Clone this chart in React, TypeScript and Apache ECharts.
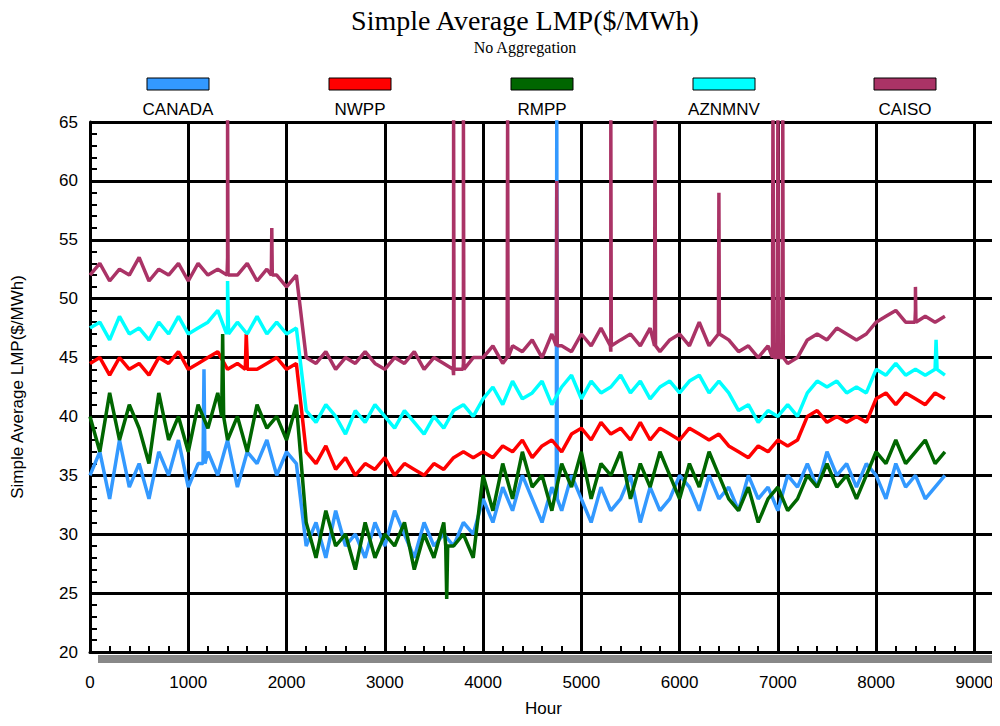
import { useEffect, useRef } from "react";
import * as echarts from "echarts";

const step = 100;
const names = ["CANADA", "NWPP", "RMPP", "AZNMNV", "CAISO"];
const colors = ["#3399ff", "#ff0000", "#006600", "#00ffff", "#aa3366"];

const canada = [
  35, 37, 33, 38, 34, 36, 33, 37, 35, 38, 34, 36, 37, 35, 38, 34, 37, 36, 38, 35, 37, 36,
  29, 31, 28, 32, 29, 30, 28, 31, 29, 32, 30, 28, 31, 29, 30, 29, 31, 30,
  33, 31, 34, 32, 35, 33, 31, 34, 32, 35, 33, 31, 34, 32, 33, 35, 31, 34, 32, 33, 35, 34, 32, 35, 33, 34, 32, 35, 33, 34, 32, 35, 34,
  36, 34, 37, 35, 36, 34, 36,
  35, 33, 36, 34, 35, 33, 34, 35,
];
const nwpp = [
  44.5, 45, 43.5, 45, 44, 44.5, 43.5, 45, 44.5, 45.5, 44, 44.5, 45, 45.5, 44, 44.5, 45, 44, 44.5, 45, 44, 44.5,
  37, 36, 37.5, 35.5, 36.5, 35, 36, 35.5, 36.5, 35, 36, 35.5, 35, 36, 35.5, 36.5, 37, 36.5,
  37, 36.5, 37.5, 37, 38, 36.5, 37.5, 38, 37, 38.5, 39, 38, 39.5, 38.5, 39, 38, 39.5, 38, 39, 38.5, 38, 39, 38.5, 38, 38.5, 37.5, 37, 36.5, 37.5, 37, 38, 37.5, 38,
  40, 40.5, 39.5, 40, 39.5, 40, 39.5,
  41.5, 42, 41, 42, 41.5, 41, 42, 41.5,
];
const rmpp = [
  40, 37, 42, 38, 41, 39, 36, 42, 38, 40, 37, 41, 39, 42, 38, 40, 37, 41, 39, 40, 38, 41,
  31, 28, 32, 29, 30, 27, 31, 28, 30, 29, 31, 27, 30, 28, 31, 29, 30, 28,
  35, 32, 36, 33, 37, 34, 35, 32, 36, 34, 37, 33, 36, 35, 37, 33, 36, 34, 37, 35, 33, 36, 34, 37, 35, 33, 32, 34, 31, 33, 34, 32, 33,
  35, 34, 36, 34, 35, 33, 35,
  37, 36, 38, 36, 37, 38, 36, 37,
];
const aznmnv = [
  47.5, 48, 46.5, 48.5, 47, 47.5, 46.5, 48, 47, 48.5, 47, 47.5, 48, 49, 47.5, 48, 47, 48.5, 47, 48, 47, 47.5,
  40.5, 39.5, 41, 40, 38.5, 40.5, 39.5, 41, 40, 39, 40.5, 39.5, 38.5, 40, 39, 40.5, 41, 40,
  41.5, 42.5, 41, 43, 41.5, 42, 43, 41, 42.5, 43.5, 41.5, 43, 42, 42.5, 43.5, 42, 43, 41.5, 42.5, 43, 42, 43, 43.5, 42, 43, 42, 40.5, 41, 39.5, 40.5, 40, 41, 40,
  42, 43, 42.5, 43, 42, 42.5, 42,
  44, 43.5, 44.5, 43.5, 44, 43.5, 44, 43.5,
];
const caiso = [
  52, 53, 51.5, 52.5, 52, 53.5, 51.5, 52.5, 52, 53, 51.5, 53, 52, 52.5, 53.5, 52, 53, 51.5, 52.5, 52, 51, 52,
  45, 44.5, 45.5, 44, 45, 44.5, 45.5, 44.5, 44, 45, 44.5, 45.5, 44, 45, 44.5, 43.5, 44.5, 45,
  45, 46, 44.5, 46, 45.5, 46.5, 45, 47, 46, 45.5, 47, 46, 47.5, 45.5, 46.5, 47, 46, 47.5, 45.5, 46.5, 47, 46, 48, 46, 47, 46.5, 45.5, 46, 45, 46, 45, 44.5, 45,
  46.5, 47, 46.5, 47.5, 47, 46.5, 47,
  48, 48.5, 49, 48, 49, 48.5, 48, 48.5,
];

const canadaSpikes = [[4745, 33], [4750, 66], [4755, 33], [1150, 36], [1160, 44], [1170, 36]];
const nwppSpikes = [[1580, 44], [1590, 47], [1600, 44]];
const rmppSpikes = [[1340, 40], [1350, 47], [1360, 40], [3620, 29], [3630, 24.5], [3640, 29]];
const aznmnvSpikes = [[1390, 47], [1400, 51.5], [1410, 47], [8600, 44], [8610, 46.5], [8620, 44]];
const caisoSpikes = [
  [1395, 52], [1400, 66], [1405, 52], [1845, 52], [1850, 56], [1855, 52],
  [3695, 44], [3700, 66], [3705, 44], [3795, 44], [3800, 66], [3805, 44],
  [4245, 45], [4250, 66], [4255, 45], [4745, 46], [4750, 60], [4755, 46],
  [5295, 46], [5300, 66], [5305, 46], [5745, 46], [5750, 66], [5755, 46],
  [6395, 47], [6400, 59], [6405, 47], [6945, 45], [6950, 66], [6960, 45],
  [6995, 45], [7000, 66], [7010, 45], [7045, 45], [7050, 66], [7055, 45],
  [8395, 48], [8400, 51], [8405, 48],
];

const allValues = [canada, nwpp, rmpp, aznmnv, caiso];
const allSpikes = [canadaSpikes, nwppSpikes, rmppSpikes, aznmnvSpikes, caisoSpikes];

function build(values: number[], spikes: number[][]) {
  const pts = values.map((v, i) => [i * step, v]);
  return pts.concat(spikes).sort((a, b) => a[0] - b[0]);
}

export default function App() {
  const ref = useRef<HTMLDivElement>(null);

  useEffect(() => {
    if (!ref.current) return;
    const chart = echarts.init(ref.current, null, { renderer: "svg" });
    const sans = "Liberation Sans";
    const legendX = [178, 360, 542, 724, 905];

    chart.setOption({
      animation: false,
      backgroundColor: "#ffffff",
      graphic: [
        { type: "rect", shape: { x: 98, y: 655, width: 902, height: 8 }, style: { fill: "#888" } },
        { type: "line", shape: { x1: 996, y1: 122, x2: 996, y2: 652 }, style: { stroke: "#000", lineWidth: 3 } },
        {
          type: "text",
          x: 525,
          y: 6,
          style: { text: "Simple Average LMP($/MWh)", fontFamily: "Liberation Serif", fontSize: 28, fill: "#000", align: "center" },
        },
        {
          type: "text",
          x: 525,
          y: 39,
          style: { text: "No Aggregation", fontFamily: "Liberation Serif", fontSize: 16, fill: "#000", align: "center" },
        },
        ...names.flatMap((n, i) => [
          {
            type: "rect",
            shape: { x: legendX[i] - 31, y: 78, width: 62, height: 12 },
            style: { fill: colors[i], stroke: "#000", lineWidth: 1 },
          },
          {
            type: "text",
            x: legendX[i],
            y: 101,
            style: { text: n, fontFamily: sans, fontSize: 17, fill: "#000", align: "center" },
          },
        ]),
      ],
      grid: { left: 90, right: 3, top: 122, bottom: 74 },
      xAxis: {
        type: "value",
        min: 0,
        max: 9230,
        interval: 1000,
        name: "Hour",
        nameLocation: "middle",
        nameGap: 48,
        nameTextStyle: { fontFamily: sans, fontSize: 17, color: "#000" },
        axisLabel: { fontFamily: sans, fontSize: 17, color: "#000", margin: 22, formatter: (v: number) => String(v) },
        axisLine: { lineStyle: { color: "#000", width: 3 } },
        axisTick: { inside: true, length: 10, lineStyle: { color: "#000", width: 2 } },
        minorTick: { show: true, splitNumber: 5, length: 6, lineStyle: { color: "#000", width: 2 } },
        splitLine: { show: true, lineStyle: { color: "#000", width: 3 } },
      },
      yAxis: {
        type: "value",
        min: 20,
        max: 65,
        interval: 5,
        name: "Simple Average LMP($/MWh)",
        nameLocation: "middle",
        nameGap: 64,
        nameTextStyle: { fontFamily: sans, fontSize: 17, color: "#000" },
        axisLabel: { fontFamily: sans, fontSize: 17, color: "#000", margin: 12 },
        axisLine: { show: true, lineStyle: { color: "#000", width: 3 } },
        axisTick: { inside: true, length: 12, lineStyle: { color: "#000", width: 2 } },
        minorTick: { show: true, splitNumber: 5, length: 7, lineStyle: { color: "#000", width: 2 } },
        splitLine: { show: true, lineStyle: { color: "#000", width: 3 } },
      },
      series: names.map((n, i) => ({
        name: n,
        type: "line",
        data: build(allValues[i], allSpikes[i]),
        showSymbol: false,
        lineStyle: { color: colors[i], width: 3.5 },
        itemStyle: { color: colors[i] },
      })),
    });

    return () => chart.dispose();
  }, []);

  return <div ref={ref} style={{ width: 1000, height: 726, margin: -8 }} />;
}
